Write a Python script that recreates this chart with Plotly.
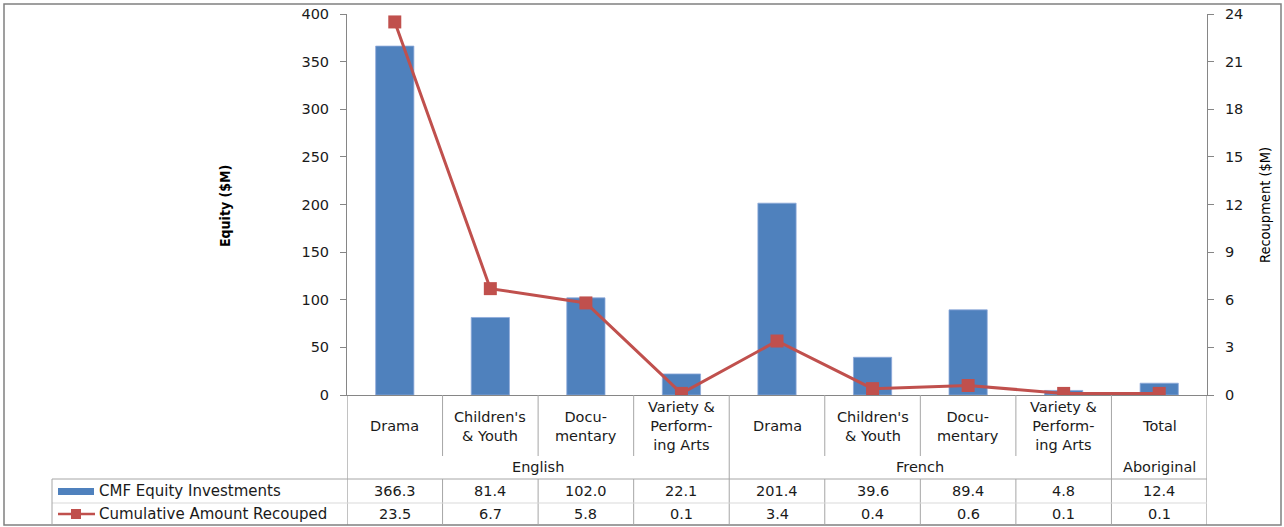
import plotly.graph_objects as go

# ---------------- data ----------------
categories = ["Drama", "Children's<br>& Youth", "Docu-<br>mentary", "Variety &<br>Perform-<br>ing Arts",
              "Drama", "Children's<br>& Youth", "Docu-<br>mentary", "Variety &<br>Perform-<br>ing Arts",
              "Total"]
groups = ["English", "French", "Aboriginal"]
group_spans = [(0, 3), (4, 7), (8, 8)]
equity = [366.3, 81.4, 102.0, 22.1, 201.4, 39.6, 89.4, 4.8, 12.4]
recouped = [23.5, 6.7, 5.8, 0.1, 3.4, 0.4, 0.6, 0.1, 0.1]
series_names = ["CMF Equity Investments", "Cumulative Amount Recouped"]
left_ticks = [0, 50, 100, 150, 200, 250, 300, 350, 400]
right_ticks = [0, 3, 6, 9, 12, 15, 18, 21, 24]

# ---------------- layout constants ----------------
W, H = 1284, 527
L, R, T, B = 347, 1207, 14, 395   # plot area in pixels
BLUE = "#4F81BD"
RED = "#C0504D"
AX = "#868686"
GRID = "#A6A6A6"
LIGHT = "#D9D9D9"
FONT = "DejaVu Sans"
TXT = "#1a1a1a"
FS = 14.5

n = len(categories)


def px(xp):
    return (xp - L) / (R - L)


def py(yp):
    return (B - yp) / (B - T)


fig = go.Figure()
xs = list(range(n))
fig.add_trace(go.Bar(x=xs, y=equity, name=series_names[0], width=0.4,
                     marker=dict(color=BLUE, line=dict(color="#8EAADB", width=0.8)),
                     yaxis="y"))
fig.add_trace(go.Scatter(x=xs, y=recouped, name=series_names[1], mode="lines+markers",
                         line=dict(color=RED, width=3),
                         marker=dict(symbol="square", size=13, color=RED),
                         yaxis="y2"))

shapes = []
annotations = []

# outer frame
shapes.append(dict(type="rect", xref="paper", yref="paper", x0=px(4), x1=px(1281), y0=py(525), y1=py(4),
                   line=dict(color="#808080", width=1.5), layer="below"))


def vline(xd, y0p, y1p, color=GRID):
    shapes.append(dict(type="line", xref="x", yref="paper", x0=xd, x1=xd, y0=py(y0p), y1=py(y1p),
                       line=dict(color=color, width=1)))


def hline(x0p, x1p, yp, color=GRID):
    shapes.append(dict(type="line", xref="paper", yref="paper", x0=px(x0p), x1=px(x1p), y0=py(yp), y1=py(yp),
                       line=dict(color=color, width=1)))


def label(x, y, text, xref="x", xanchor="center", size=FS, family=FONT, angle=0, color=TXT):
    annotations.append(dict(x=x, y=y, xref=xref, yref="paper", text=text, showarrow=False,
                            xanchor=xanchor, yanchor="middle", align="center", textangle=angle,
                            font=dict(family=family, size=size, color=color)))


# axis line extensions through the table
vline(-0.5, B, 525, AX)
vline(n - 0.5, B, 525, AX)
# separators
for gi, (a, b) in enumerate(group_spans):
    for k in range(a, b):
        vline(k + 0.5, B, 456)
        vline(k + 0.5, 479, 525)
    if b < n - 1:
        vline(b + 0.5, B, 525)
hline(52, R, 479, GRID)
hline(52, R, 503, LIGHT)
shapes.append(dict(type="line", xref="paper", yref="paper", x0=px(52), x1=px(52), y0=py(479), y1=py(525),
                   line=dict(color=GRID, width=1)))

# category labels and table values
for i, c in enumerate(categories):
    label(i, py(426), c)
    label(i, py(491), f"{equity[i]:.1f}")
    label(i, py(514), f"{recouped[i]:.1f}")
for g, (a, b) in zip(groups, group_spans):
    label((a + b) / 2, py(467), g)

# legend keys in table
shapes.append(dict(type="rect", xref="paper", yref="paper", x0=px(58), x1=px(94), y0=py(495), y1=py(488),
                   fillcolor=BLUE, line=dict(width=0)))
shapes.append(dict(type="line", xref="paper", yref="paper", x0=px(58), x1=px(95), y0=py(514), y1=py(514),
                   line=dict(color=RED, width=2.5)))
shapes.append(dict(type="rect", xref="paper", yref="paper", x0=px(71), x1=px(81), y0=py(519), y1=py(509),
                   fillcolor=RED, line=dict(width=0)))
label(px(97), py(491), series_names[0], xref="paper", xanchor="left", size=15)
label(px(97), py(514), series_names[1], xref="paper", xanchor="left", size=15)

# axis titles
label(px(225), py(206), "<b>Equity ($M)</b>", xref="paper", size=14, family="DejaVu Sans Condensed",
      angle=-90, color="#000")
label(px(1265), py(205), "Recoupment ($M)", xref="paper", size=14.5, family="DejaVu Sans Condensed",
      angle=-90, color="#000")

fig.update_layout(
    width=W, height=H,
    margin=dict(l=L, r=W - R, t=T, b=H - B, pad=0, autoexpand=False),
    paper_bgcolor="white", plot_bgcolor="white",
    showlegend=False,
    shapes=shapes, annotations=annotations,
    xaxis=dict(range=[-0.5, n - 0.5], showticklabels=False, ticks="", showgrid=False, zeroline=False,
               showline=True, linecolor=AX, linewidth=1, fixedrange=True, automargin=False),
    yaxis=dict(range=[0, 400], tickvals=left_ticks, ticks="outside", ticklen=6, tickcolor=AX,
               showline=True, linecolor=AX, linewidth=1, showgrid=False, zeroline=False, automargin=False,
               tickfont=dict(family=FONT, size=FS, color=TXT), ticklabelstandoff=8),
    yaxis2=dict(range=[0, 24], tickvals=right_ticks, overlaying="y", side="right", ticks="outside", ticklen=6,
                tickcolor=AX, showline=True, linecolor=AX, linewidth=1, showgrid=False, zeroline=False,
                automargin=False,
                tickfont=dict(family=FONT, size=FS, color=TXT), ticklabelstandoff=8),
    bargap=0.6,
)

fig.write_html("out.html")
